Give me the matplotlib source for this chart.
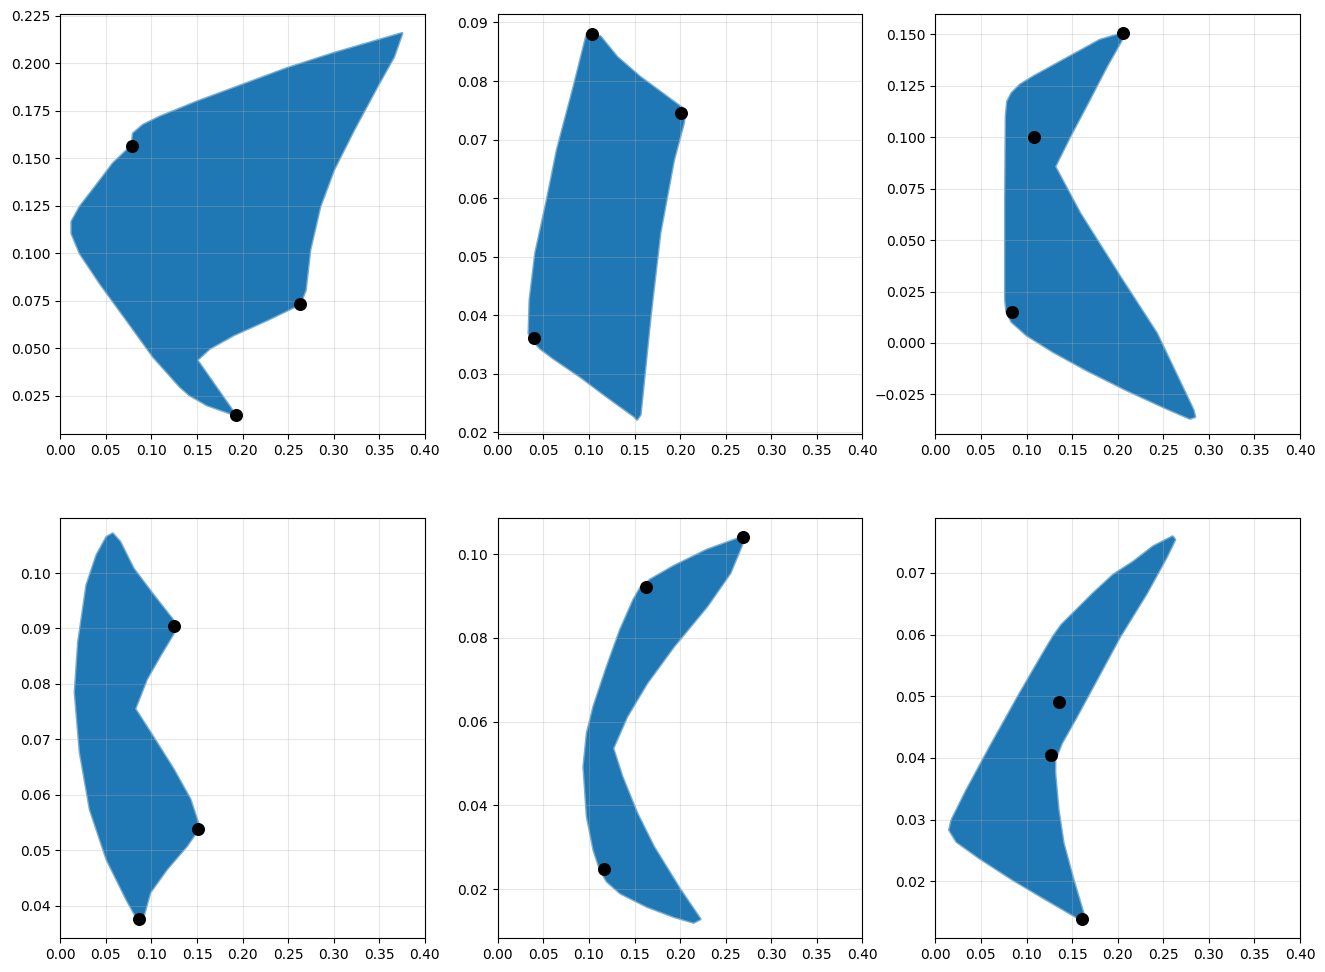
import matplotlib
matplotlib.use("Agg")
import matplotlib.pyplot as plt

# outlines of the attainable (risk, return) regions
p1_x = [0.375, 0.300, 0.249, 0.190, 0.150, 0.1095, 0.091, 0.080, 0.0784, 0.058, 0.040, 0.0216,
        0.0125, 0.0125, 0.0216, 0.0436, 0.0729, 0.102, 0.1315, 0.142, 0.161, 0.1923, 0.150,
        0.164, 0.190, 0.2267, 0.263, 0.269, 0.274, 0.285, 0.300, 0.322, 0.3476, 0.366]
p1_y = [0.2157, 0.2052, 0.1973, 0.1868, 0.1797, 0.1718, 0.1675, 0.163, 0.1566, 0.1473, 0.1359,
        0.1245, 0.1166, 0.1104, 0.0999, 0.0841, 0.0648, 0.0455, 0.0297, 0.0253, 0.0201, 0.0148,
        0.0438, 0.0499, 0.0569, 0.0648, 0.0732, 0.0806, 0.1017, 0.1245, 0.1438, 0.1648, 0.1876,
        0.2034]

p2_x = [0.1034, 0.1125, 0.1308, 0.156, 0.1856, 0.2057, 0.2038, 0.193, 0.178, 0.1673, 0.158,
        0.1563, 0.1527, 0.150, 0.1198, 0.0906, 0.0614, 0.0468, 0.0376, 0.034, 0.0351, 0.0413,
        0.054, 0.065, 0.0833, 0.0979]
p2_y = [0.0881, 0.0876, 0.0841, 0.0807, 0.0773, 0.0750, 0.0728, 0.0665, 0.0540, 0.0397, 0.0255,
        0.0230, 0.0222, 0.0227, 0.0261, 0.0295, 0.0326, 0.0343, 0.0358, 0.0369, 0.0426, 0.0506,
        0.0597, 0.0682, 0.0790, 0.0881]

p3_x = [0.2062, 0.1806, 0.144, 0.1075, 0.0929, 0.0837, 0.079, 0.0775, 0.0768, 0.0768, 0.0782,
        0.0837, 0.1002, 0.1294, 0.166, 0.2099, 0.2537, 0.2793, 0.2848, 0.283, 0.2428, 0.2026,
        0.1587, 0.1313, 0.1477, 0.166, 0.1879, 0.2044]
p3_y = [0.1505, 0.1472, 0.1383, 0.1294, 0.1254, 0.1213, 0.1173, 0.110, 0.0695, 0.0209, 0.0152,
        0.0103, 0.0038, -0.0043, -0.0132, -0.0229, -0.0318, -0.0367, -0.0359, -0.0326, 0.0047,
        0.0322, 0.0630, 0.0857, 0.1003, 0.1156, 0.1343, 0.1472]

p4_x = [0.0575, 0.0656, 0.0802, 0.1022, 0.1242, 0.126, 0.1095, 0.0949, 0.082, 0.0985, 0.1242,
        0.1425, 0.1527, 0.1388, 0.1168, 0.0985, 0.0912, 0.0868, 0.082, 0.0729, 0.0509, 0.0326,
        0.0216, 0.0161, 0.0198, 0.0289, 0.0399, 0.0509]
p4_y = [0.1071, 0.1056, 0.1008, 0.0960, 0.0914, 0.0896, 0.0851, 0.0809, 0.0755, 0.0713, 0.0646,
        0.0592, 0.0541, 0.0508, 0.0466, 0.0424, 0.0381, 0.0374, 0.0384, 0.0411, 0.0484, 0.0574,
        0.0677, 0.0785, 0.0875, 0.0978, 0.1032, 0.1065]

p5_x = [0.2685, 0.2294, 0.1929, 0.1673, 0.1563, 0.149, 0.1344, 0.1198, 0.1052, 0.0979, 0.0942,
        0.0979, 0.1052, 0.1125, 0.1198, 0.1344, 0.1637, 0.1929, 0.2148, 0.2221, 0.2002, 0.171,
        0.1527, 0.1363, 0.1264, 0.1417, 0.1637, 0.1929, 0.2294, 0.255, 0.27]
p5_y = [0.1041, 0.1010, 0.0971, 0.0939, 0.0919, 0.0891, 0.0819, 0.0731, 0.0636, 0.0572, 0.0492,
        0.0373, 0.0293, 0.0245, 0.0218, 0.0190, 0.0158, 0.0134, 0.0120, 0.0128, 0.0198, 0.0301,
        0.0381, 0.0469, 0.0536, 0.0612, 0.0692, 0.0779, 0.0875, 0.0955, 0.1034]

p6_x = [0.2603, 0.2391, 0.2172, 0.1953, 0.1733, 0.155, 0.1386, 0.1294, 0.1185, 0.0929, 0.060,
        0.0344, 0.0179, 0.0154, 0.0234, 0.049, 0.0856, 0.1221, 0.1477, 0.1605, 0.1623, 0.1514,
        0.1404, 0.1349, 0.1313, 0.1313, 0.1386, 0.155, 0.177, 0.2026, 0.2318, 0.2537, 0.2629]
p6_y = [0.0759, 0.0743, 0.0718, 0.0697, 0.0667, 0.0640, 0.0616, 0.0597, 0.0570, 0.0505, 0.0418,
        0.0348, 0.0299, 0.0283, 0.0264, 0.0237, 0.0202, 0.0170, 0.0148, 0.0137, 0.0148, 0.0202,
        0.0262, 0.0316, 0.0375, 0.0397, 0.0424, 0.0467, 0.0527, 0.0597, 0.0667, 0.0726, 0.0754]

# the three single assets in each panel
a1_x = [0.0784, 0.2626, 0.1923]
a1_y = [0.1566, 0.0732, 0.0148]
a2_x = [0.1034, 0.2013, 0.0395]
a2_y = [0.0881, 0.0746, 0.0362]
a3_x = [0.2062, 0.1082, 0.0837]
a3_y = [0.1505, 0.1001, 0.0149]
a4_x = [0.1249, 0.1516, 0.0868]
a4_y = [0.0904, 0.0539, 0.0377]
a5_x = [0.2685, 0.1622, 0.1162]
a5_y = [0.1041, 0.0921, 0.0247]
a6_x = [0.1353, 0.1269, 0.1612]
a6_y = [0.0490, 0.0404, 0.0139]

ylims = [(0.0048, 0.2257), (0.0197, 0.0914), (-0.0443, 0.1597),
         (0.0342, 0.1099), (0.0083, 0.1086), (0.0108, 0.0789)]

regions = [(p1_x, p1_y), (p2_x, p2_y), (p3_x, p3_y), (p4_x, p4_y), (p5_x, p5_y), (p6_x, p6_y)]
assets = [(a1_x, a1_y), (a2_x, a2_y), (a3_x, a3_y), (a4_x, a4_y), (a5_x, a5_y), (a6_x, a6_y)]

fig, axes = plt.subplots(2, 3, figsize=(13.25, 9.72), dpi=100)
fig.subplots_adjust(left=0.0455, right=0.9811, top=0.9853, bottom=0.035,
                    wspace=0.2, hspace=0.2)

for ax, (rx, ry), (sx, sy), yl in zip(axes.flat, regions, assets, ylims):
    ax.fill(rx, ry, facecolor="C0", edgecolor="none", zorder=1)
    # soft rounded rim, like the edge of the dense scatter cloud
    ax.fill(rx, ry, facecolor="none", edgecolor="C0", linewidth=2,
            alpha=0.6, joinstyle="round", zorder=1)
    ax.scatter(sx, sy, color="black", s=70, zorder=3)
    ax.set_xlim(0, 0.4)
    ax.set_ylim(*yl)
    ax.grid(True, alpha=0.3)

fig.savefig("out.png", dpi=100)
